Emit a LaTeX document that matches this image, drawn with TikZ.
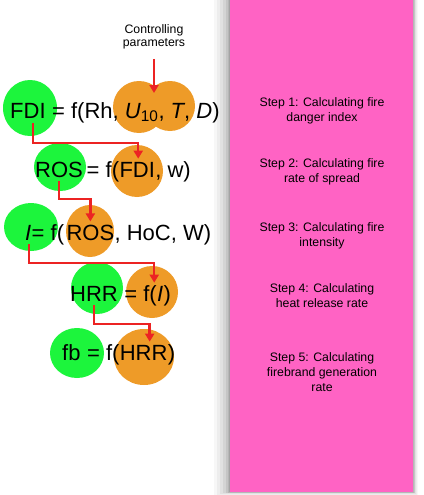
\documentclass[tikz,border=0pt]{standalone}
\usepackage{fontspec}
\setmainfont{Liberation Sans}
\usetikzlibrary{arrows.meta}
\definecolor{pinkbg}{RGB}{255,99,196}
\definecolor{blobgreen}{RGB}{28,245,60}
\definecolor{bloborange}{RGB}{238,155,40}
\definecolor{arrred}{RGB}{236,35,35}
\begin{document}
\begin{tikzpicture}[x=1pt,y=-1pt,
  eq/.style={font=\fontsize{22}{26}\selectfont, inner sep=0pt, anchor=base west},
  steptext/.style={font=\fontsize{12.3}{15}\selectfont, align=center, inner sep=0pt, anchor=base},
  gblob/.style={fill=blobgreen},
  oblob/.style={fill=bloborange},
  arr/.style={draw=arrred, line width=2.4pt, -{Triangle[width=9pt,length=8pt]}}]
\useasboundingbox (0,0) rectangle (423,495);
% panel shadow
\foreach \w/\o in {16/0.03,13/0.04,10/0.05,7/0.06,4.5/0.07,2.5/0.08,1/0.1}{
  \fill[black,opacity=\o] (230-\w,0) rectangle (413+\w/3,492+\w/5);
}
\fill[pinkbg] (230,0) rectangle (413,492);
% blobs
\fill[gblob] (30,108) ellipse [x radius=27, y radius=28];
\fill[oblob] (139,107) circle [radius=26];
\fill[oblob] (170,106) circle [radius=25];
\fill[gblob] (60,167) ellipse [x radius=26, y radius=24];
\fill[oblob] (137,171) circle [radius=26];
\fill[gblob] (31,227) ellipse [x radius=27, y radius=24];
\fill[oblob] (90,231) ellipse [x radius=24, y radius=26];
\fill[gblob] (97,288) circle [radius=26];
\fill[oblob] (152,292) circle [radius=26];
\fill[gblob] (77,353) ellipse [x radius=27, y radius=25];
\fill[oblob] (144,357) ellipse [x radius=30, y radius=28];
% controlling parameters
\node[steptext, font=\fontsize{12.3}{13.5}\selectfont] (ctrl) at (154,47) {Controlling\\parameters};
\coordinate (ctrlend) at (154,93);
\draw[arr] ([yshift=-9pt]ctrl.south) -- (ctrlend);
% equations
\node[eq] (fdiA) at (10,118) {FDI};
\node[eq] (l1r) at (fdiA.base east) {\ = f(Rh, \textit{U}\textsubscript{10}, \textit{T}, \textit{D})};
\node[eq] (rosA) at (35,177) {ROS};
\node[eq] (l2a) at (86.5,177) {= f(};
\node[eq] (fdiB) at (l2a.base east) {FDI};
\node[eq] (l2b) at (fdiB.base east) {, w)};
\node[eq] (iA) at (25,240) {\textit{I}};
\node[eq] (l3a) at (iA.base east) {= f(};
\node[eq] (rosB) at ([xshift=2pt]l3a.base east) {ROS};
\node[eq] (l3b) at (rosB.base east) {, HoC, W)};
\node[eq] (hrrA) at (70,301) {HRR};
\node[eq] (l4a) at (hrrA.base east) {\ = f(};
\node[eq] (iB) at (l4a.base east) {\textit{I}};
\node[eq] (l4b) at (iB.base east) {)};
\node[eq] (fbA) at (62,360) {fb};
\node[eq] (l5a) at (fbA.base east) {\ = f(};
\node[eq] (hrrB) at (l5a.base east) {HRR};
\node[eq] (l5b) at (hrrB.base east) {)};
% connectors
\coordinate (s1) at ([xshift=5pt,yshift=-5pt]fdiA.south);
\coordinate (e1) at ([xshift=1pt,yshift=3pt]fdiB.north);
\draw[arr] (s1) -- (s1 |- 0,143) -| (e1);
\coordinate (s2) at ([yshift=-4pt]rosA.south);
\coordinate (e2) at ([yshift=3pt]rosB.north);
\draw[arr] (s2) -- (s2 |- 0,199) -| (e2);
\coordinate (s3) at ([xshift=1pt,yshift=-4pt]iA.south);
\coordinate (e3) at ([xshift=-6pt,yshift=3pt]iB.north);
\draw[arr] (s3) -- (s3 |- 0,263) -| (e3);
\coordinate (s4) at ([yshift=-4pt]hrrA.south);
\coordinate (e4) at ([xshift=6pt,yshift=3pt]hrrB.north);
\draw[arr] (s4) -- (s4 |- 0,324) -| (e4);
% steps
\node[steptext] (st1) at (322,121) {Step 1: Calculating fire\\danger index};
\node[steptext] (st2) at (322,182) {Step 2: Calculating fire\\rate of spread};
\node[steptext] (st3) at (322,246) {Step 3: Calculating fire\\intensity};
\node[steptext] (st4) at (322,307) {Step 4: Calculating\\heat release rate};
\node[steptext] (st5) at (322,391) {Step 5: Calculating\\firebrand generation\\rate};
\end{tikzpicture}
\end{document}
